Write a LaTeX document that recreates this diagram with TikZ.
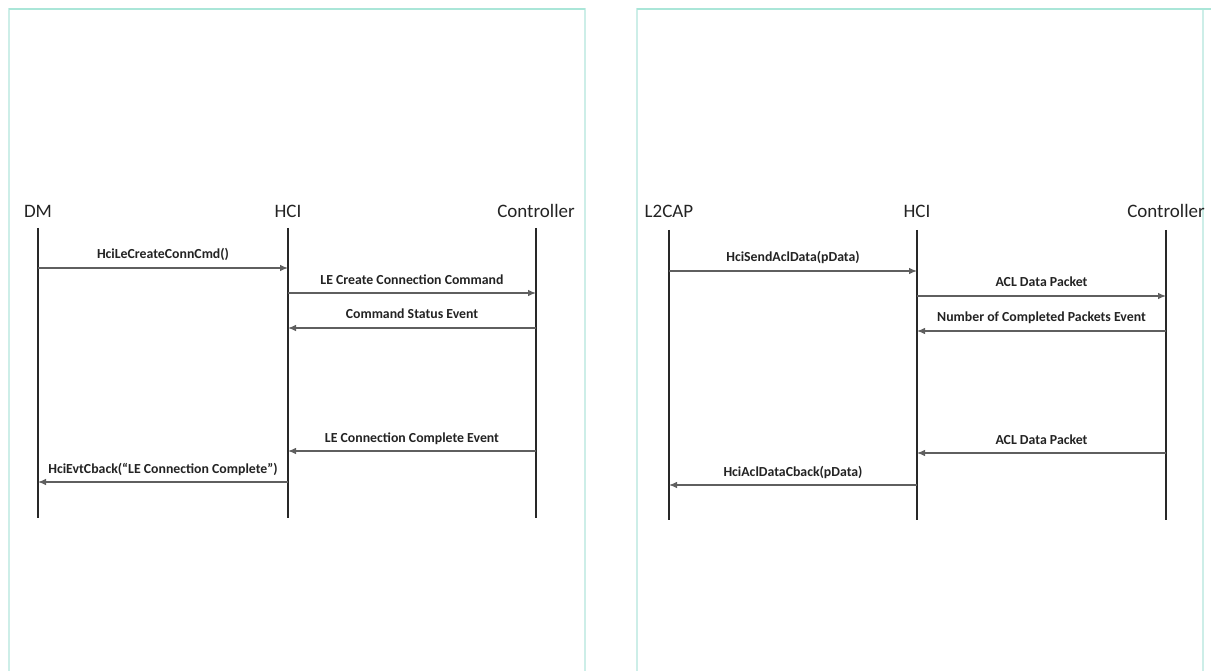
\documentclass[tikz,border=0pt]{standalone}
\usepackage{fontspec}
\setmainfont{Carlito}
\usepackage{xcolor}
\definecolor{panelteal}{RGB}{170,230,216}
\definecolor{panelside}{RGB}{205,238,232}
\definecolor{lifegray}{RGB}{40,40,40}
\definecolor{msggray}{RGB}{95,95,95}
\definecolor{txtgray}{RGB}{35,35,35}
\usetikzlibrary{arrows.meta, positioning, calc}

\tikzset{
  panel/.style={draw=panelside, line width=1.4pt},
  paneltop/.style={draw=panelteal, line width=1.8pt},
  actor/.style={font=\fontsize{19}{22}\selectfont, text=txtgray, anchor=base, inner sep=0pt},
  lifeline/.style={draw=lifegray, line width=1.6pt},
  msg/.style={draw=msggray, line width=1.1pt, -{Latex[length=8pt, width=6.5pt]}},
  msglabel/.style={font=\fontsize{13.8}{16}\selectfont\bfseries, text=txtgray, anchor=base, inner sep=0pt, yshift=9pt}
}

\begin{document}
\begin{tikzpicture}[x=1pt, y=-1pt]
  \useasboundingbox (0,0) rectangle (1211,671);

  % Panels
  \draw[panel] (9,9) rectangle (585,690);
  \draw[panel] (637,9) rectangle (1203,690);
  \draw[paneltop] (9,9) -- (585,9);
  \draw[paneltop] (637,9) -- (1211,9);

  % --- Left: Connection setup ---
  \node[actor] (dm) at (38,218) {DM};
  \node[actor] (hciL) at (288,218) {HCI};
  \node[actor] (ctrlL) at (536,218) {Controller};

  \coordinate (dmTop) at (38,228);
  \coordinate (dmBot) at (38,518);
  \coordinate (hciLTop) at (288,228);
  \coordinate (hciLBot) at (288,518);
  \coordinate (ctrlLTop) at (536,228);
  \coordinate (ctrlLBot) at (536,518);

  \draw[lifeline] (dmTop) -- (dmBot);
  \draw[lifeline] (hciLTop) -- (hciLBot);
  \draw[lifeline] (ctrlLTop) -- (ctrlLBot);

  \draw[msg] (dmTop |- 0,268) -- (hciLTop |- 0,268) node[msglabel, midway] {HciLeCreateConnCmd()};
  \draw[msg] (hciLTop |- 0,293) -- (ctrlLTop |- 0,293) node[msglabel, midway] {LE Create Connection Command};
  \draw[msg] (ctrlLTop |- 0,328) -- (hciLTop |- 0,328) node[msglabel, midway] {Command Status Event};
  \draw[msg] (ctrlLTop |- 0,451) -- (hciLTop |- 0,451) node[msglabel, midway] {LE Connection Complete Event};
  \draw[msg] (hciLTop |- 0,482) -- (dmTop |- 0,482) node[msglabel, midway] {HciEvtCback(“LE Connection Complete”)};

  % --- Right: ACL data ---
  \node[actor] (l2cap) at (669,218) {L2CAP};
  \node[actor] (hciR) at (917,218) {HCI};
  \node[actor] (ctrlR) at (1166,218) {Controller};

  \coordinate (l2capTop) at (669,230);
  \coordinate (l2capBot) at (669,520);
  \coordinate (hciRTop) at (917,230);
  \coordinate (hciRBot) at (917,520);
  \coordinate (ctrlRTop) at (1166,230);
  \coordinate (ctrlRBot) at (1166,520);

  \draw[lifeline] (l2capTop) -- (l2capBot);
  \draw[lifeline] (hciRTop) -- (hciRBot);
  \draw[lifeline] (ctrlRTop) -- (ctrlRBot);

  \draw[msg] (l2capTop |- 0,271) -- (hciRTop |- 0,271) node[msglabel, midway] {HciSendAclData(pData)};
  \draw[msg] (hciRTop |- 0,296) -- (ctrlRTop |- 0,296) node[msglabel, midway] {ACL Data Packet};
  \draw[msg] (ctrlRTop |- 0,331) -- (hciRTop |- 0,331) node[msglabel, midway] {Number of Completed Packets Event};
  \draw[msg] (ctrlRTop |- 0,453) -- (hciRTop |- 0,453) node[msglabel, midway] {ACL Data Packet};
  \draw[msg] (hciRTop |- 0,485) -- (l2capTop |- 0,485) node[msglabel, midway] {HciAclDataCback(pData)};
\end{tikzpicture}
\end{document}
